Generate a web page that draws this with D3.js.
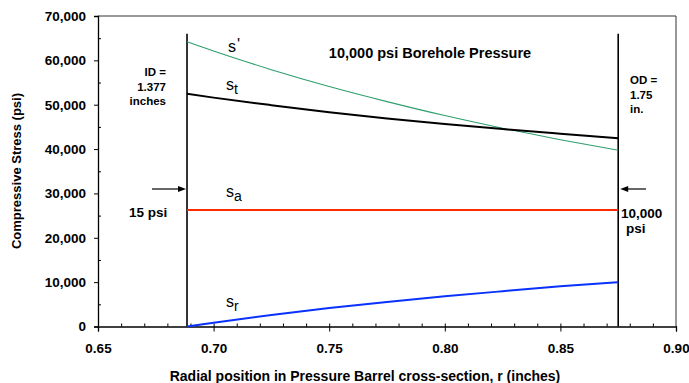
<!DOCTYPE html>
<html>
<head>
<meta charset="utf-8">
<script src="https://cdn.jsdelivr.net/npm/d3@7"></script>
<style>
	body { margin: 0; background: #fff; }
	svg { display: block; font-family: 'Liberation Sans', Arial, sans-serif; }
	.bold { font-weight: bold; }
</style>
</head>
<body>
<svg id="chart" width="689" height="383"></svg>
<script>
// radial positions (inches) where stresses were read
const rPos = [0.6885, 0.70, 0.725, 0.75, 0.775, 0.80, 0.825, 0.85, 0.875];
// compressive stresses (psi)
const sPrime = [64200, 62100, 57900, 54100, 50700, 47550, 44700, 42100, 39750];
const sTangential = [52450, 51600, 49900, 48300, 46900, 45650, 44500, 43450, 42450];
const sAxial = [26250, 26250, 26250, 26250, 26250, 26250, 26250, 26250, 26250];
const sRadial = [15, 870, 2600, 4150, 5550, 6800, 7950, 9050, 10000];

const innerRadius = 0.6885;
const outerRadius = 0.875;
const wallTop = 66000;
const arrowLevel = 31000;

const yTicks = [0, 10000, 20000, 30000, 40000, 50000, 60000, 70000];
const xTicks = [0.65, 0.70, 0.75, 0.80, 0.85, 0.90];

const plotLeft = 98, plotRight = 676, plotTop = 16, plotBottom = 326.5;

let svg = d3.select('#chart');

let x = d3.scaleLinear().domain([0.65, 0.90]).range([plotLeft, plotRight]);
let y = d3.scaleLinear().domain([0, 70000]).range([plotBottom, plotTop]);

//frame top and right
svg.append('path')
	.attr('d', `M${plotLeft},${plotTop}H${plotRight}V${plotBottom}`)
	.attr('fill', 'none')
	.attr('stroke', '#333')
	.attr('stroke-width', 1);

//y axis: labelled ticks outside, minor ticks inside
let yAxis = svg.append('g').attr('transform', `translate(${plotLeft},0)`)
	.call(d3.axisLeft(y).tickValues(yTicks).tickFormat(d3.format(',')).tickSize(4).tickPadding(8));
svg.append('g').attr('transform', `translate(${plotLeft},0)`)
	.call(d3.axisRight(y).tickValues(d3.range(5000, 70000, 10000)).tickFormat('').tickSize(3))
	.select('.domain').remove();

//x axis: labelled ticks outside, minor ticks inside
let xAxis = svg.append('g').attr('transform', `translate(0,${plotBottom})`)
	.call(d3.axisBottom(x).tickValues(xTicks).tickFormat(d3.format('.2f')).tickSize(5).tickPadding(12));
svg.append('g').attr('transform', `translate(0,${plotBottom})`)
	.call(d3.axisTop(x).tickValues(d3.range(0.66, 0.895, 0.01)).tickFormat('').tickSize(3))
	.select('.domain').remove();

svg.selectAll('.domain').attr('stroke', '#000').attr('stroke-width', 1.3);
svg.selectAll('.tick line').attr('stroke', '#000').attr('stroke-width', 1);
[xAxis, yAxis].forEach(function(a) {
	a.selectAll('text')
		.attr('class', 'bold')
		.style('font-size', '13.5px')
		.style('font-family', "'Liberation Sans', Arial, sans-serif")
		.attr('fill', '#000');
});

//inner and outer wall lines
[innerRadius, outerRadius].forEach(function(r) {
	svg.append('line')
		.attr('x1', x(r)).attr('x2', x(r))
		.attr('y1', y(wallTop)).attr('y2', y(0))
		.attr('stroke', '#000')
		.attr('stroke-width', 1.6);
});

//stress curves
let lineFunction = function(values) {
	return d3.line()
		.x(function(d, i) { return x(rPos[i]); })
		.y(function(d) { return y(d); })
		.curve(d3.curveMonotoneX)(values);
};
const series = [
	{ values: sPrime, color: '#2f9e6e', w: 1.1 },
	{ values: sTangential, color: '#000000', w: 2 },
	{ values: sAxial, color: '#ff2a00', w: 2 },
	{ values: sRadial, color: '#0a32ff', w: 2 }
];
series.forEach(function(s) {
	svg.append('path')
		.attr('d', lineFunction(s.values))
		.attr('fill', 'none')
		.attr('stroke', s.color)
		.attr('stroke-width', s.w);
});

//pressure arrows
function arrow(x1, x2, yy) {
	let dir = x2 > x1 ? 1 : -1;
	svg.append('line')
		.attr('x1', x1).attr('x2', x2 - dir * 7)
		.attr('y1', yy).attr('y2', yy)
		.attr('stroke', '#000').attr('stroke-width', 1.2);
	svg.append('path')
		.attr('d', `M${x2},${yy}L${x2 - dir * 8},${yy - 3}L${x2 - dir * 8},${yy + 3}Z`)
		.attr('fill', '#000');
}
arrow(152, x(innerRadius) - 1, y(arrowLevel));
arrow(646, x(outerRadius) + 2, y(arrowLevel));

//text
function label(txt, px, py, size, anchor, bold) {
	return svg.append('text')
		.attr('x', px).attr('y', py)
		.attr('text-anchor', anchor || 'start')
		.attr('class', bold ? 'bold' : null)
		.style('font-size', size + 'px')
		.text(txt);
}
label('10,000 psi Borehole Pressure', 430, 58, 14.5, 'middle', true);
label('ID =', 166, 76, 11.5, 'end', true);
label('1.377', 166, 90.5, 11.5, 'end', true);
label('inches', 166, 105, 11.5, 'end', true);
label('OD =', 630, 84, 11.5, 'start', true);
label('1.75', 630, 98.5, 11.5, 'start', true);
label('in.', 630, 113, 11.5, 'start', true);
label('15 psi', 129, 217, 13.5, 'start', true);
label('10,000', 621, 218, 13.5, 'start', true);
label('psi', 626, 233, 13.5, 'start', true);

function symbol(sub, px, py) {
	let t = label('s', px, py, 16, 'start', false);
	if (sub === "'") {
		t.append('tspan').attr('dy', -2).attr('dx', 1).style('font-size', '16px').text("'");
	} else {
		t.append('tspan').attr('dy', 4).style('font-size', '14px').text(sub);
	}
}
symbol("'", 228, 52);
symbol('t', 226, 90);
symbol('a', 226, 197);
symbol('r', 226, 306.5);

//axis titles
label('Radial position in Pressure Barrel cross-section, r (inches)', 365, 381, 14, 'middle', true);
svg.append('text')
	.attr('transform', 'translate(21,171) rotate(-90)')
	.attr('text-anchor', 'middle')
	.attr('class', 'bold')
	.style('font-size', '13px')
	.text('Compressive Stress (psi)');
</script>
</body>
</html>
